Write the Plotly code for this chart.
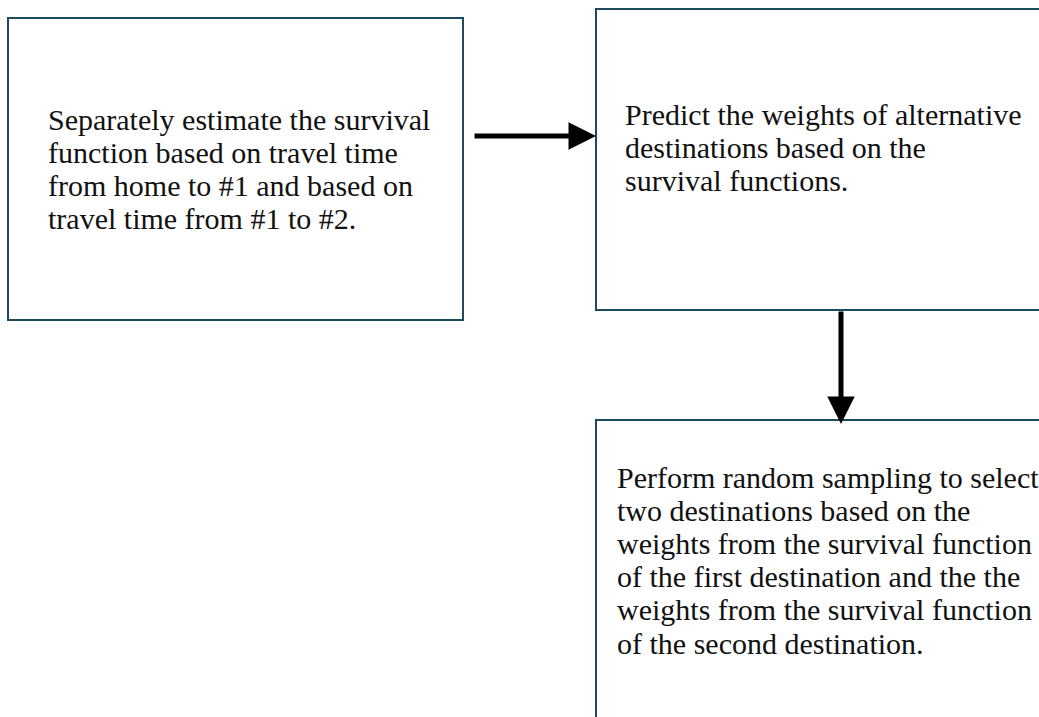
import plotly.graph_objects as go

# Flowchart content: one list of lines per box
box_lines = [
    ["Separately estimate the survival",
     "function based on travel time",
     "from home to #1 and based on",
     "travel time from #1 to #2."],
    ["Predict the weights of alternative",
     "destinations based on the",
     "survival functions."],
    ["Perform random sampling to select",
     "two destinations based on the",
     "weights from the survival function",
     "of the first destination and the the",
     "weights from the survival function",
     "of the second destination."],
]
# box extents in screen pixels (x0, y0, x1, y1)
box_x0 = [8, 596, 596]
box_y0 = [18, 9, 420]
box_x1 = [463, 1070, 1070]
box_y1 = [320, 310, 780]
# text left edge and first baseline per box
text_x = [46, 623, 615]
first_baseline = [130, 125, 488]
LINE_STEP = 33.2
FONT_SIZE = 30

# arrows: (tail x, tail y, head x, head y)
arrow_tail_x = [473, 841]
arrow_tail_y = [136, 310]
arrow_head_x = [596, 841]
arrow_head_y = [136, 424]

W, H = 1039, 717
BORDER = "#1d4a5c"

fig = go.Figure()
fig.add_trace(go.Scatter(x=[0, W], y=[0, H], mode="markers",
                         marker=dict(opacity=0), hoverinfo="skip", showlegend=False))

shapes = []
for x0, y0, x1, y1 in zip(box_x0, box_y0, box_x1, box_y1):
    shapes.append(dict(type="rect", xref="x", yref="y", x0=x0, y0=y0, x1=x1, y1=y1,
                       line=dict(color=BORDER, width=2), fillcolor="white", layer="below"))

annotations = []
for lines, x, b0 in zip(box_lines, text_x, first_baseline):
    for i, line in enumerate(lines):
        annotations.append(dict(x=x, y=b0 + i * LINE_STEP - 11, xref="x", yref="y", text=line,
                                showarrow=False, xanchor="left", yanchor="middle", align="left",
                                font=dict(family="Liberation Serif, Times New Roman, serif",
                                          size=FONT_SIZE, color="#111111")))

for tx, ty, hx, hy in zip(arrow_tail_x, arrow_tail_y, arrow_head_x, arrow_head_y):
    annotations.append(dict(x=hx, y=hy, ax=tx, ay=ty, xref="x", yref="y", axref="x", ayref="y",
                            text="", showarrow=True, arrowhead=2, arrowsize=1.1, arrowwidth=5,
                            arrowcolor="black"))

fig.update_layout(
    width=W, height=H, margin=dict(l=0, r=0, t=0, b=0),
    paper_bgcolor="white", plot_bgcolor="white",
    xaxis=dict(range=[0, W], visible=False, fixedrange=True),
    yaxis=dict(range=[H, 0], visible=False, fixedrange=True),
    shapes=shapes, annotations=annotations, showlegend=False,
)
fig.write_html("out.html", config={"displayModeBar": False},
               post_script="document.body.style.margin='0px';document.body.style.overflow='hidden';")
